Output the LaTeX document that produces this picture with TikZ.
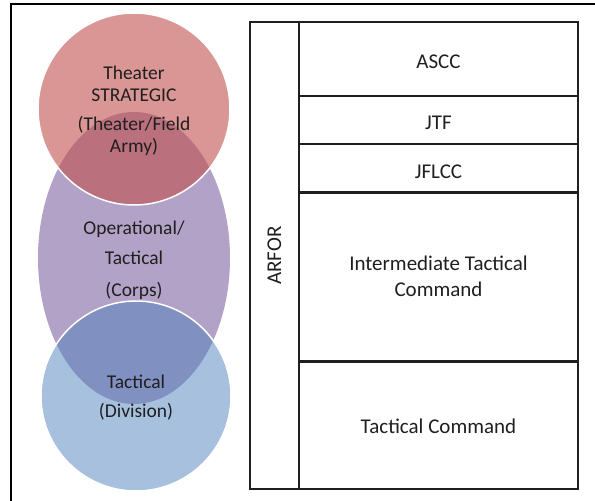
\documentclass[tikz,border=0pt]{standalone}
\usepackage{fontspec}
\setmainfont{Carlito}
\usetikzlibrary{shapes.geometric}
\definecolor{operfill}{RGB}{179,162,199}
\definecolor{theaterfill}{RGB}{192,80,77}
\definecolor{tactfill}{RGB}{79,129,189}
\newcommand{\lowertext}[2]{\raisebox{-#1}[\height][\depth]{#2}}
\begin{document}
\begin{tikzpicture}[x=1pt,y=-1pt,
  venntext/.style={align=center,text=black!88,font=\fontsize{19.5}{22}\selectfont,inner sep=0pt},
  cell/.style={draw=black!88,line width=1.8pt,rectangle,inner sep=0pt,align=center,text=black!88,font=\fontsize{21}{26}\selectfont},
  framebox/.style={draw=black,line width=2pt}]
\useasboundingbox (0,0) rectangle (595,501);
% outer frame
\coordinate (ftl) at (11,4);
\coordinate (fbl) at (11,510);
\coordinate (ftr) at (605,4);
\draw[framebox] (fbl) -- (ftl) -- (ftr);
% venn
\node[ellipse,minimum width=192pt,minimum height=292pt,fill=operfill,inner sep=0pt] (oper) at (134,258) {};
\node[circle,minimum size=192pt,fill=theaterfill,fill opacity=0.6,draw=white,line width=1.5pt,inner sep=0pt] (theater) at (134,109) {};
\node[circle,minimum size=190pt,fill=tactfill,fill opacity=0.5,draw=white,line width=1.5pt,inner sep=0pt] (tact) at (136,396) {};
\node[venntext] (ttheater) at (134,111) {Theater\\STRATEGIC\\[7pt](Theater/Field\\Army)};
\node[venntext] (toper) at (134,260) {Operational/\\[8pt]Tactical\\[10pt](Corps)};
\node[venntext] (ttact) at (136,398) {Tactical\\[7pt](Division)};
% table
\node[cell,minimum width=49pt,minimum height=467pt] (arfor) at (274.5,255.5) {\rotatebox{90}{ARFOR}};
\node[cell,minimum width=279pt,minimum height=74pt] (ascc) at (438.5,59) {\lowertext{2.5pt}{ASCC}};
\node[cell,minimum width=279pt,minimum height=48pt] (jtf) at (438.5,120) {\lowertext{2.5pt}{JTF}};
\node[cell,minimum width=279pt,minimum height=49pt] (jflcc) at (438.5,168.5) {\lowertext{3pt}{JFLCC}};
\node[cell,minimum width=279pt,minimum height=169pt] (itc) at (438.5,276) {Intermediate Tactical\\Command};
\node[cell,minimum width=279pt,minimum height=127pt] (tc) at (438.5,425.5) {\lowertext{1pt}{Tactical Command}};
\end{tikzpicture}
\end{document}
